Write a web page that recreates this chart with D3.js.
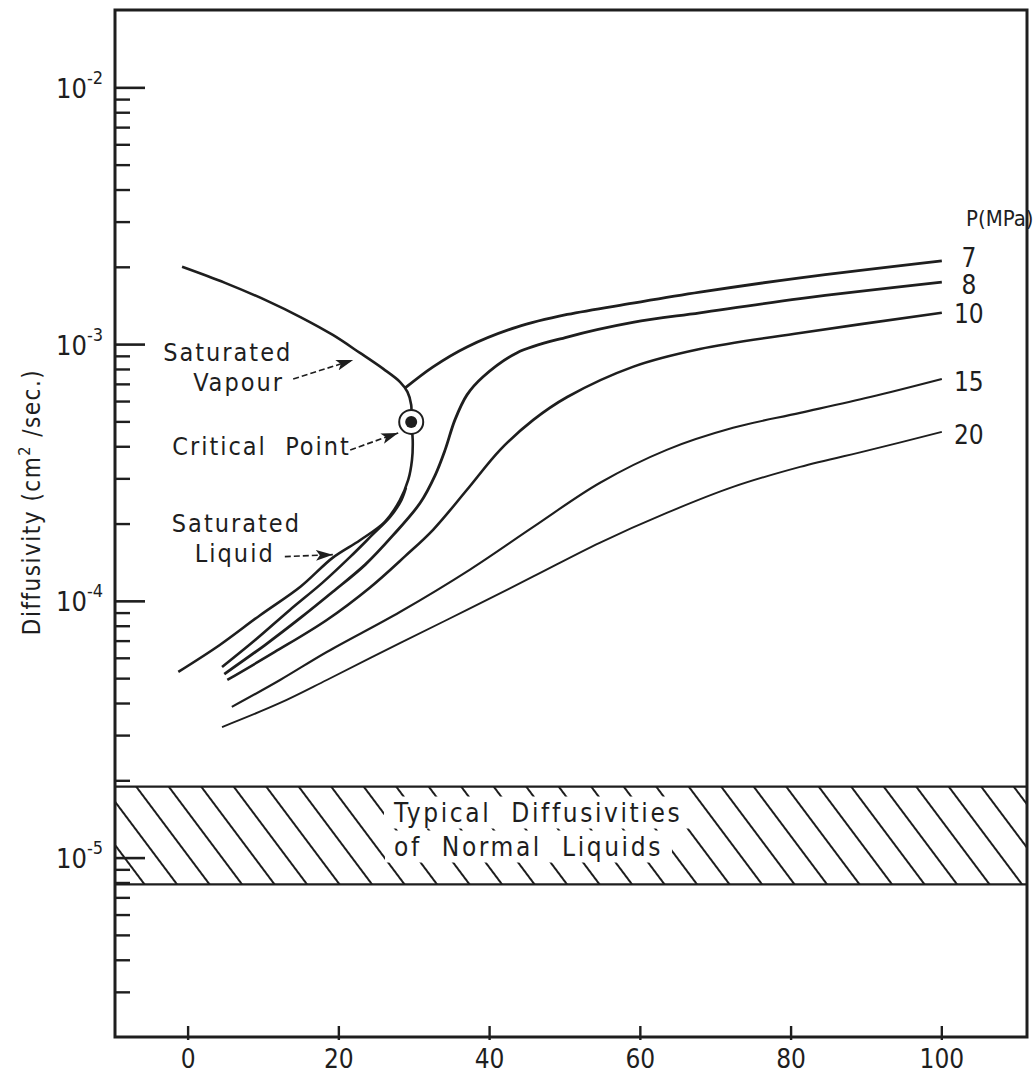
<!DOCTYPE html>
<html>
<head>
<meta charset="utf-8">
<script src="https://cdn.jsdelivr.net/npm/d3@7/dist/d3.min.js"></script>
<style>
body { margin: 0; background: #fff; }
svg text { font-family: "DejaVu Sans Condensed", "DejaVu Sans", sans-serif; fill: #1e1e1e; }
</style>
</head>
<body>
<script>
(function(){

//curve data: [temperature (C), diffusivity (cm2/sec)]
var satLiquid = [[-1.3,5.31e-5],[4.2,6.76e-5],[9.6,8.85e-5],[14.9,1.14e-4],[19.2,1.48e-4],[22.8,1.73e-4],
  [26.1,2.04e-4],[28.1,2.48e-4],[29.2,2.97e-4],[29.7,3.55e-4],[29.8,4.25e-4],[29.6,5.0e-4]];
var satVapour = [[-0.8,2.01e-3],[4.9,1.74e-3],[10.5,1.48e-3],[14.9,1.28e-3],[19.2,1.09e-3],[22.8,9.28e-4],
  [25.9,8.04e-4],[28.1,7.16e-4],[29.1,6.54e-4],[29.6,5.82e-4],[29.6,5.0e-4]];
var criticalPoint = [29.6, 5.0e-4];

//isobars
var p7Liquid = [[4.5,5.55e-5],[8.9,7.07e-5],[13.5,9.26e-5],[17.8,1.18e-4],[21.5,1.49e-4],[24.4,1.81e-4],
  [26.8,2.13e-4],[28.3,2.48e-4],[28.9,2.77e-4]];
var p7Vapour = [[28.8,6.78e-4],[32.5,8.19e-4],[37.0,9.79e-4],[43.6,1.17e-3],[50.3,1.31e-3],[59.0,1.45e-3],
  [67.9,1.60e-3],[81.2,1.82e-3],[100,2.12e-3]];
var p8 = [[4.8,5.21e-5],[10.2,6.76e-5],[14.9,8.62e-5],[19.2,1.09e-4],[23.5,1.39e-4],[27.2,1.81e-4],
  [30.8,2.42e-4],[32.8,3.11e-4],[34.1,3.89e-4],[35.4,5.09e-4],[37.0,6.37e-4],[39.1,7.48e-4],
  [43.6,9.28e-4],[50.3,1.07e-3],[59.0,1.22e-3],[67.9,1.33e-3],[81.2,1.51e-3],[100,1.75e-3]];
var p10 = [[5.2,4.94e-5],[11.5,6.35e-5],[18.4,8.46e-5],[24.1,1.13e-4],[28.8,1.50e-4],[32.5,1.90e-4],
  [37.0,2.72e-4],[41.4,3.89e-4],[45.8,5.09e-4],[50.3,6.25e-4],[59.0,8.19e-4],[67.9,9.61e-4],
  [81.2,1.11e-3],[100,1.33e-3]];
var p15 = [[5.8,3.88e-5],[12.2,4.94e-5],[18.4,6.35e-5],[28.1,9.09e-5],[37.4,1.33e-4],[45.8,1.95e-4],
  [54.6,2.89e-4],[63.5,3.89e-4],[72.3,4.74e-4],[81.2,5.42e-4],[90.5,6.25e-4],[100,7.35e-4]];
var p20 = [[4.5,3.24e-5],[12.2,4.02e-5],[18.4,4.94e-5],[28.1,6.88e-5],[37.0,9.26e-5],[45.8,1.25e-4],
  [54.6,1.69e-4],[63.5,2.21e-4],[72.3,2.79e-4],[81.2,3.34e-4],[90.5,3.89e-4],[100,4.57e-4]];
var pressureLabels = ["7", "8", "10", "15", "20"];

//typical liquid band
var liquidBand = [7.9e-6, 1.9e-5];

//ticks
var xTicks = [0, 20, 40, 60, 80, 100];
var yDecades = [1e-2, 1e-3, 1e-4, 1e-5];
var yExponents = ["-2", "-3", "-4", "-5"];

var width = 1034, height = 1077;
var ink = "#1e1e1e";

var x = d3.scaleLinear().domain([-9.7, 111.3]).range([115, 1027]);
var y = d3.scaleLog().domain([2.01e-6, 2.01e-2]).range([1037, 10]);

var svg = d3.select("body").append("svg")
  .attr("width", width)
  .attr("height", height);

var defs = svg.append("defs");

//diagonal hatching
defs.append("pattern")
  .attr("id", "hatch")
  .attr("patternUnits", "userSpaceOnUse")
  .attr("width", 26)
  .attr("height", 10)
  .attr("patternTransform", "rotate(-36.87)")
  .append("line")
  .attr("x1", 1).attr("y1", -1).attr("x2", 1).attr("y2", 11)
  .attr("stroke", ink)
  .attr("stroke-width", 2);

defs.append("marker")
  .attr("id", "arrow")
  .attr("markerUnits", "userSpaceOnUse")
  .attr("markerWidth", 18).attr("markerHeight", 11)
  .attr("refX", 17).attr("refY", 5.5)
  .attr("orient", "auto")
  .append("path")
  .attr("d", "M0,0 L17,5.5 L0,11 L4,5.5 Z")
  .attr("fill", ink);

//band of normal liquids
var bandTop = y(liquidBand[1]), bandBottom = y(liquidBand[0]);
svg.append("rect")
  .attr("x", x.range()[0]).attr("y", bandTop)
  .attr("width", x.range()[1] - x.range()[0])
  .attr("height", bandBottom - bandTop)
  .attr("fill", "url(#hatch)");
[bandTop, bandBottom].forEach(function(v){
  svg.append("line")
    .attr("x1", x.range()[0]).attr("x2", x.range()[1])
    .attr("y1", v).attr("y2", v)
    .attr("stroke", ink).attr("stroke-width", 2.2);
});

var bandText = ["Typical  Diffusivities", "of  Normal  Liquids"];
var bandBoxes = [];
bandText.forEach(function(t, i){
  var tx = svg.append("text")
    .attr("x", 394)
    .attr("y", bandTop + 35 + i * 34)
    .attr("font-size", 26)
    .attr("letter-spacing", 2.6)
    .attr("xml:space", "preserve")
    .style("white-space", "pre")
    .text(t);
  var bb = tx.node().getBBox();
  svg.insert("rect", function(){ return tx.node(); })
    .attr("x", bb.x - 9).attr("y", bb.y - 1)
    .attr("width", bb.width + 18).attr("height", bb.height + 2)
    .attr("fill", "#fff");
});

//curves
var line = d3.line()
  .x(function(d){ return x(d[0]); })
  .y(function(d){ return y(d[1]); })
  .curve(d3.curveCatmullRom.alpha(0.5));

var dome = satLiquid.concat(satVapour.slice().reverse().slice(1));
svg.append("path")
  .datum(dome)
  .attr("d", line)
  .attr("fill", "none").attr("stroke", ink).attr("stroke-width", 2.6);

var isobars = [p7Liquid, p7Vapour, p8, p10, p15, p20];
var isoWidths = [2.6, 2.8, 2.8, 2.6, 2.1, 1.9];
svg.selectAll(".isobar")
  .data(isobars)
  .enter()
  .append("path")
  .attr("class", "isobar")
  .attr("d", line)
  .attr("fill", "none")
  .attr("stroke", ink)
  .attr("stroke-width", function(d, i){ return isoWidths[i]; });

//pressure labels at the end of each isobar
var isoEnds = [p7Vapour, p8, p10, p15, p20];
var labelNudge = [-3, 3, 1, 3, 3];
svg.selectAll(".plabel")
  .data(isoEnds)
  .enter()
  .append("text")
  .attr("class", "plabel")
  .attr("x", function(d){ return x(d[d.length - 1][0]) + 27; })
  .attr("y", function(d, i){ return y(d[d.length - 1][1]) + labelNudge[i] + 9; })
  .attr("text-anchor", "middle")
  .attr("font-size", 26)
  .text(function(d, i){ return pressureLabels[i]; });

svg.append("text")
  .attr("x", 966).attr("y", 226)
  .attr("font-size", 22)
  .text("P(MPa)");

//critical point marker
var cx = x(criticalPoint[0]), cy = y(criticalPoint[1]);
svg.append("circle")
  .attr("cx", cx).attr("cy", cy).attr("r", 12)
  .attr("fill", "#fff").attr("stroke", ink).attr("stroke-width", 2);
svg.append("circle")
  .attr("cx", cx).attr("cy", cy).attr("r", 6)
  .attr("fill", ink);

//annotations with arrows: tip on the curve, text offsets in px
function annotate(tip, from, lines, textPos){
  svg.append("line")
    .attr("x1", tip[0] + from[0]).attr("y1", tip[1] + from[1])
    .attr("x2", tip[0]).attr("y2", tip[1])
    .attr("stroke", ink).attr("stroke-width", 1.6)
    .attr("stroke-dasharray", "6,3")
    .attr("marker-end", "url(#arrow)");
  lines.forEach(function(t, i){
    svg.append("text")
      .attr("x", tip[0] + textPos[i][0])
      .attr("y", tip[1] + textPos[i][1])
      .attr("font-size", 25)
      .attr("letter-spacing", 2)
      .attr("xml:space", "preserve")
      .style("white-space", "pre")
      .text(t);
  });
}

annotate([x(21.9), y(8.71e-4)], [-60, 19], ["Saturated", "Vapour"], [[-190, 1], [-160, 31]]);
annotate([cx - 13, cy + 11], [-48, 17], ["Critical  Point"], [[-226, 22]]);
annotate([x(19.2), y(1.52e-4)], [-48, 2], ["Saturated", "Liquid"], [[-161, -23], [-138, 7]]);

//y axis ticks (inward)
var minor = [];
yDecades.forEach(function(dec){
  for (var k = 2; k <= 9; k++){
    var v = dec * k / 10;
    if (v >= 3e-6) minor.push(v);
  }
});
svg.selectAll(".ymajor")
  .data(yDecades)
  .enter()
  .append("line")
  .attr("x1", x.range()[0]).attr("x2", x.range()[0] + 30)
  .attr("y1", function(d){ return y(d); }).attr("y2", function(d){ return y(d); })
  .attr("stroke", ink).attr("stroke-width", 2.6);
svg.selectAll(".yminor")
  .data(minor)
  .enter()
  .append("line")
  .attr("x1", x.range()[0]).attr("x2", x.range()[0] + 15)
  .attr("y1", function(d){ return y(d); }).attr("y2", function(d){ return y(d); })
  .attr("stroke", ink).attr("stroke-width", 2.4);

var ylab = svg.selectAll(".ylab")
  .data(yDecades)
  .enter()
  .append("text")
  .attr("class", "ylab")
  .attr("x", 56)
  .attr("y", function(d){ return y(d) + 10; })
  .attr("font-size", 27);
ylab.append("tspan").text("10");
ylab.append("tspan")
  .attr("dy", -14)
  .attr("font-size", 18)
  .text(function(d, i){ return yExponents[i]; });

//x axis ticks and labels
svg.selectAll(".xtick")
  .data(xTicks)
  .enter()
  .append("line")
  .attr("x1", function(d){ return x(d); }).attr("x2", function(d){ return x(d); })
  .attr("y1", y.range()[0] + 3).attr("y2", y.range()[0] - 11)
  .attr("stroke", ink).attr("stroke-width", 2.4);
svg.selectAll(".xlab")
  .data(xTicks)
  .enter()
  .append("text")
  .attr("x", function(d){ return x(d); })
  .attr("y", 1068)
  .attr("text-anchor", "middle")
  .attr("font-size", 26)
  .text(function(d){ return d; });

//y axis title
var ytitle = svg.append("text")
  .attr("transform", "translate(40,502) rotate(-90)")
  .attr("text-anchor", "middle")
  .attr("font-size", 24)
  .attr("letter-spacing", 1.5);
ytitle.append("tspan").text("Diffusivity (cm");
ytitle.append("tspan").attr("dy", -10).attr("font-size", 16).text("2");
ytitle.append("tspan").attr("dy", 10).text(" /sec.)");

//frame
svg.append("rect")
  .attr("x", x.range()[0]).attr("y", y.range()[1])
  .attr("width", x.range()[1] - x.range()[0])
  .attr("height", y.range()[0] - y.range()[1])
  .attr("fill", "none")
  .attr("stroke", ink)
  .attr("stroke-width", 3);

})();
</script>
</body>
</html>
